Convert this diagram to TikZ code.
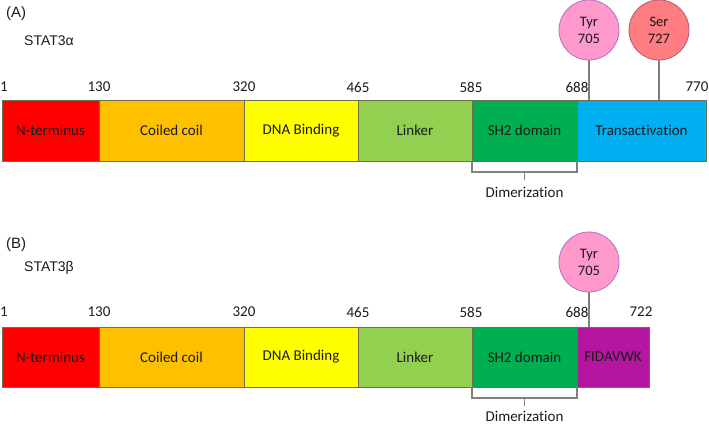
\documentclass[tikz,border=0pt]{standalone}
\usepackage{fontspec}
\usetikzlibrary{calc}
\setmainfont{Carlito}[Ligatures={NoCommon}]
\newfontfamily\arialf{Liberation Sans}
\definecolor{cRed}{HTML}{FF0000}
\definecolor{cOrange}{HTML}{FFC000}
\definecolor{cYellow}{HTML}{FFFF00}
\definecolor{cLime}{HTML}{92D050}
\definecolor{cGreen}{HTML}{00B050}
\definecolor{cBlue}{HTML}{00B0F0}
\definecolor{cPurple}{HTML}{B4169F}
\definecolor{cPink}{HTML}{FF99CC}
\definecolor{cPinkB}{HTML}{B070C8}
\definecolor{cSalmon}{HTML}{FF7C80}
\definecolor{cSalmonB}{HTML}{B05A70}
\definecolor{cEdge}{HTML}{6E6E50}
\definecolor{cLine}{HTML}{808080}
\definecolor{cText}{HTML}{1A1A1A}
\begin{document}
\begin{tikzpicture}[x=1pt,y=-1pt,
  seg/.style={draw=cEdge, line width=0.8pt, rectangle, inner sep=0pt, outer sep=0pt,
     anchor=north west, text=cText, font=\fontsize{15}{17}\selectfont},
  num/.style={inner sep=0pt, text=cText, font=\fontsize{15}{17}\selectfont},
  lab/.style={inner sep=0pt, anchor=west, text=cText, font=\arialf\fontsize{15}{17}\selectfont},
  site/.style={circle, minimum size=60pt, inner sep=0pt, line width=0.8pt, align=center,
     text=cText, font=\fontsize{14.5}{17}\selectfont},
  conn/.style={draw=cLine, line width=1.1pt}
]
\useasboundingbox (0,0) rectangle (709,425);
% ---------- (A) ----------
\node[lab] (labA) at (6,14) {(A)};
\node[lab, font=\arialf\fontsize{14}{16}\selectfont] (nameA) at (24,41) {STAT3α};
\node[seg, fill=cRed,    minimum width=97pt,  minimum height=61pt] (a1) at (2,100) {N-terminus};
\node[seg, fill=cOrange, minimum width=145pt, minimum height=61pt] (a2) at (99,100) {Coiled coil};
\node[seg, fill=cYellow, minimum width=114pt, minimum height=61pt] (a3) at (244,100) {DNA Binding};
\node[seg, fill=cLime,   minimum width=114pt, minimum height=61pt] (a4) at (358,100) {Linker};
\node[seg, fill=cGreen,  minimum width=105pt, minimum height=61pt] (a5) at (472,100) {SH2 domain};
\node[seg, fill=cBlue,   minimum width=129pt, minimum height=61pt] (a6) at (577,100) {Transactivation};
\node[num] (na1) at (4,87) {1};
\node[num] (na2) at (99,87) {130};
\node[num] (na3) at (244,87) {320};
\node[num] (na4) at (358,87) {465};
\node[num] (na5) at (471,87) {585};
\node[num] (na6) at (577,87) {688};
\node[num] (na7) at (697,87) {770};
\node[site, draw=cPinkB, fill=cPink] (tyrA) at (589,30) {Tyr\\705};
\node[site, draw=cSalmonB, fill=cSalmon] (serA) at (659,30) {Ser\\727};
\draw[conn] (tyrA.south) -- (tyrA.south |- a6.north);
\draw[conn] (serA.south) -- (serA.south |- a6.north);
\coordinate (bAl) at ([yshift=-11pt]a5.south west);
\coordinate (bAr) at ([yshift=-11pt]a5.south east);
\node[num, anchor=base] (dimA) at (524.5,197) {Dimerization};
\draw[conn] (a5.south west) -- (bAl) -- (bAr) -- (a5.south east);
\draw[conn] ($(bAl)!0.5!(bAr)$) -- ++(0,8);
% ---------- (B) ----------
\node[lab] (labB) at (6,245) {(B)};
\node[lab, font=\arialf\fontsize{14}{16}\selectfont] (nameB) at (24,268) {STAT3β};
\node[seg, fill=cRed,    minimum width=97pt,  minimum height=60pt] (b1) at (2,327) {N-terminus};
\node[seg, fill=cOrange, minimum width=145pt, minimum height=60pt] (b2) at (99,327) {Coiled coil};
\node[seg, fill=cYellow, minimum width=114pt, minimum height=60pt] (b3) at (244,327) {DNA Binding};
\node[seg, fill=cLime,   minimum width=114pt, minimum height=60pt] (b4) at (358,327) {Linker};
\node[seg, fill=cGreen,  minimum width=105pt, minimum height=60pt] (b5) at (472,327) {SH2 domain};
\node[seg, fill=cPurple, minimum width=72pt,  minimum height=60pt] (b6) at (577,327) {FIDAVWK};
\node[num] (nb1) at (4,312) {1};
\node[num] (nb2) at (99,312) {130};
\node[num] (nb3) at (244,312) {320};
\node[num] (nb4) at (358,312) {465};
\node[num] (nb5) at (471,312) {585};
\node[num] (nb6) at (577,312) {688};
\node[num] (nb7) at (641,312) {722};
\node[site, draw=cPinkB, fill=cPink] (tyrB) at (589,262) {Tyr\\705};
\draw[conn] (tyrB.south) -- (tyrB.south |- b6.north);
\coordinate (bBl) at ([yshift=-11pt]b5.south west);
\coordinate (bBr) at ([yshift=-11pt]b5.south east);
\node[num, anchor=base] (dimB) at (524.5,421) {Dimerization};
\draw[conn] (b5.south west) -- (bBl) -- (bBr) -- (b5.south east);
\draw[conn] ($(bBl)!0.5!(bBr)$) -- ++(0,8);
\end{tikzpicture}
\end{document}
